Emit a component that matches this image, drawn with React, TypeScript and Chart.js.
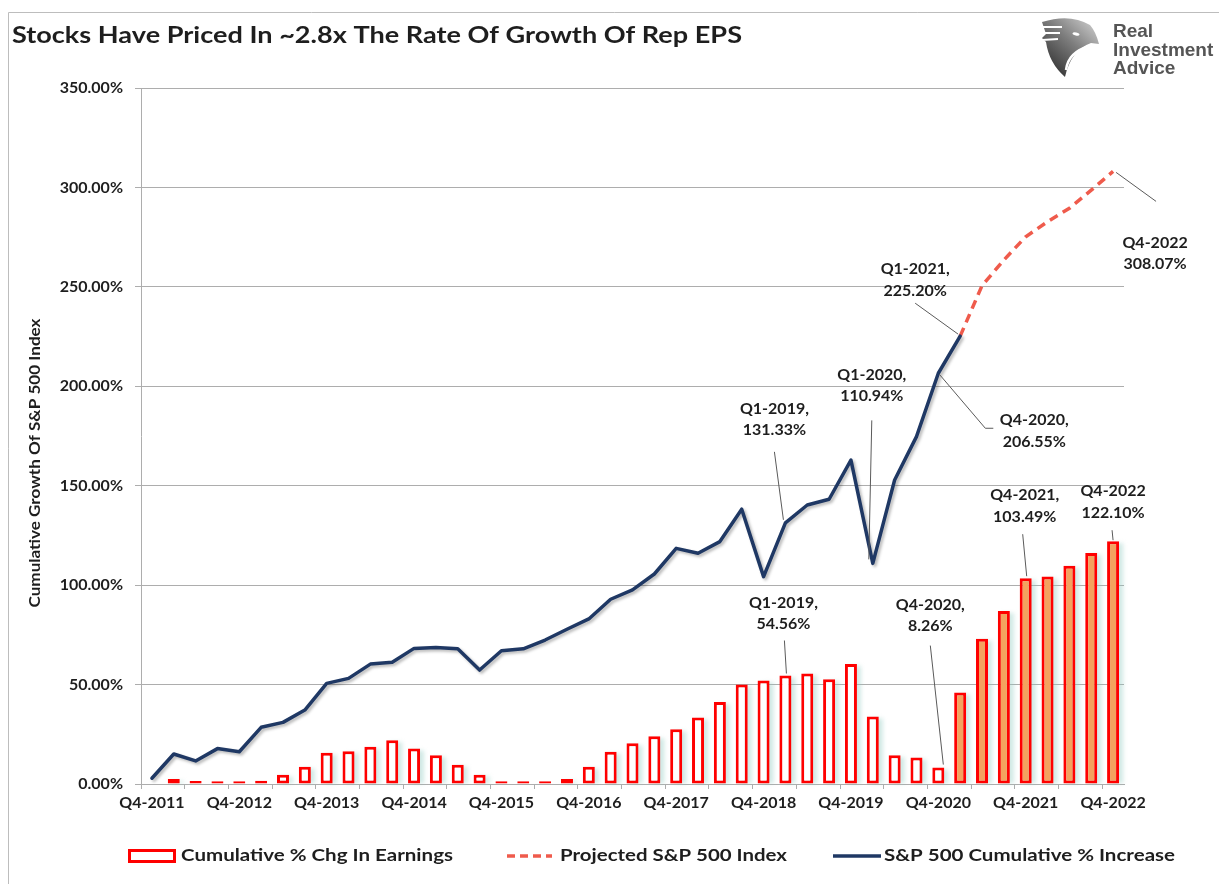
import React, { useEffect, useRef } from 'react';
import { Chart, registerables } from 'chart.js';

Chart.register(...registerables);

// ---------- data ----------
const quarterLabels: string[] = [
  'Q4-2011',
  'Q1-2012', 'Q2-2012', 'Q3-2012', 'Q4-2012',
  'Q1-2013', 'Q2-2013', 'Q3-2013', 'Q4-2013',
  'Q1-2014', 'Q2-2014', 'Q3-2014', 'Q4-2014',
  'Q1-2015', 'Q2-2015', 'Q3-2015', 'Q4-2015',
  'Q1-2016', 'Q2-2016', 'Q3-2016', 'Q4-2016',
  'Q1-2017', 'Q2-2017', 'Q3-2017', 'Q4-2017',
  'Q1-2018', 'Q2-2018', 'Q3-2018', 'Q4-2018',
  'Q1-2019', 'Q2-2019', 'Q3-2019', 'Q4-2019',
  'Q1-2020', 'Q2-2020', 'Q3-2020', 'Q4-2020',
  'Q1-2021', 'Q2-2021', 'Q3-2021', 'Q4-2021',
  'Q1-2022', 'Q2-2022', 'Q3-2022', 'Q4-2022',
];

const xTickLabels: string[] = [
  'Q4-2011', 'Q4-2012', 'Q4-2013', 'Q4-2014', 'Q4-2015', 'Q4-2016',
  'Q4-2017', 'Q4-2018', 'Q4-2019', 'Q4-2020', 'Q4-2021', 'Q4-2022',
];

const earningsCumulative: number[] = [
  0, 2.5, 1.5, 1.4, 1.4, 1.6, 4.7, 8.7, 15.7, 16.5, 18.7, 22.0, 17.9, 14.5, 9.7, 4.7,
  1.4, 1.4, 1.4, 2.5, 8.7, 16.2, 20.5, 24.0, 27.5, 33.5, 41.2, 50.0, 52.0, 54.56,
  55.6, 52.7, 60.3, 34.0, 14.5, 13.3, 8.26, 46.0, 73.0, 87.0, 103.49, 104.3, 109.8,
  116.2, 122.1,
];

const sp500Cumulative: (number | null)[] = [
  2.9, 15.1, 11.6, 17.8, 16.2, 28.5, 31.0, 37.2, 50.6, 53.1, 60.3, 61.2, 68.2, 68.7,
  68.0, 57.3, 67.0, 68.0, 72.4, 77.8, 83.0, 92.9, 97.6, 105.6, 118.5, 116.0, 121.9,
  138.2, 104.3, 131.33, 140.3, 143.2, 162.9, 110.94, 152.9, 174.7, 206.55, 225.2,
  null, null, null, null, null, null, null,
];

const projectedSp500: (number | null)[] = [
  null, null, null, null, null, null, null, null, null, null, null, null, null, null,
  null, null, null, null, null, null, null, null, null, null, null, null, null, null,
  null, null, null, null, null, null, null, null, null, 225.2,
  250.6, 263.5, 275.2, 282.8, 289.5, 298.6, 308.07,
];

const projectionStartLabel = 'Q1-2021';

const seriesNames = {
  earnings: 'Cumulative % Chg In Earnings',
  projected: 'Projected S&P 500 Index',
  sp500: 'S&P 500 Cumulative % Increase',
};

// callouts: text plus offsets (px) relative to the data point
type Callout = {
  series: 'sp500' | 'projected' | 'earnings';
  label: string;
  text: string[];
  dx: number;
  dy: number;
  leader: number[][];
};
const callouts: Callout[] = [
  { series: 'projected', label: 'Q4-2022', text: ['Q4-2022', '308.07%'], dx: 42, dy: 71, leader: [[3, 1], [43, 30]] },
  { series: 'sp500', label: 'Q1-2021', text: ['Q1-2021,', '225.20%'], dx: -45, dy: -67, leader: [[-2, -2], [-45, -33]] },
  { series: 'sp500', label: 'Q1-2020', text: ['Q1-2020,', '110.94%'], dx: -1, dy: -189, leader: [[-4, -4], [-1, -143]] },
  { series: 'sp500', label: 'Q1-2019', text: ['Q1-2019,', '131.33%'], dx: -11, dy: -114, leader: [[-2, -3], [-11, -71]] },
  { series: 'sp500', label: 'Q4-2020', text: ['Q4-2020,', '206.55%'], dx: 96, dy: 47, leader: [[1, 1], [47, 55], [55, 55]] },
  { series: 'earnings', label: 'Q1-2019', text: ['Q1-2019,', '54.56%'], dx: -2, dy: -73, leader: [[1, -2], [-1, -35]] },
  { series: 'earnings', label: 'Q4-2020', text: ['Q4-2020,', '8.26%'], dx: -8, dy: -163, leader: [[5, -3], [-8, -122]] },
  { series: 'earnings', label: 'Q4-2021', text: ['Q4-2021,', '103.49%'], dx: -1, dy: -83, leader: [[1, -2], [-3, -44]] },
  { series: 'earnings', label: 'Q4-2022', text: ['Q4-2022', '122.10%'], dx: 0, dy: -50, leader: [[0, -1], [-1, -11]] },
];

// ---------- styles ----------
const NAVY = '#1F3864';
const SALMON = '#EF5B4C';
const RED = '#FF0000';
const ORANGE = '#F4A25E';
const GRID = '#ADADAD';
const TEXT = '#1E1E1E';
const FONT = 'Lato, "Open Sans", "DejaVu Sans", sans-serif';

const projectionStart = quarterLabels.indexOf(projectionStartLabel);
const earningsFill = quarterLabels.map((_, i) => (i >= projectionStart ? ORANGE : '#FFFFFF'));

function fitText(ctx: CanvasRenderingContext2D, text: string, x: number, y: number, width: number, align: 'left' | 'center') {
  const w = ctx.measureText(text).width;
  const sx = width / w;
  ctx.save();
  ctx.translate(x, y);
  ctx.scale(sx, 1);
  ctx.textAlign = 'left';
  ctx.fillText(text, align === 'center' ? -w / 2 : 0, 0);
  ctx.restore();
}

function drawLogo(ctx: CanvasRenderingContext2D) {
  ctx.save();
  const g = ctx.createLinearGradient(1046, 76, 1098, 20);
  g.addColorStop(0, '#262626');
  g.addColorStop(0.55, '#7d7d7d');
  g.addColorStop(1, '#d4d4d4');
  ctx.fillStyle = g;
  ctx.beginPath();
  ctx.moveTo(1042, 22);
  ctx.quadraticCurveTo(1070, 13, 1090, 25);
  ctx.quadraticCurveTo(1096, 32, 1099, 44);
  ctx.lineTo(1091, 43);
  ctx.quadraticCurveTo(1071, 50, 1065, 77);
  ctx.quadraticCurveTo(1049, 63, 1046, 42);
  ctx.lineTo(1042, 38);
  ctx.lineTo(1046, 34);
  ctx.closePath();
  ctx.fill();
  ctx.strokeStyle = '#FFFFFF';
  ctx.lineWidth = 2;
  ctx.beginPath();
  ctx.moveTo(1040, 27); ctx.lineTo(1062, 27);
  ctx.moveTo(1040, 33); ctx.lineTo(1060, 33);
  ctx.moveTo(1042, 40); ctx.lineTo(1058, 39);
  ctx.stroke();
  ctx.lineWidth = 2.5;
  ctx.beginPath();
  ctx.moveTo(1066, 70);
  ctx.quadraticCurveTo(1068, 52, 1090, 46);
  ctx.stroke();
  ctx.fillStyle = '#FFFFFF';
  ctx.beginPath();
  ctx.ellipse(1076, 34, 3.5, 1.6, 0.2, 0, Math.PI * 2);
  ctx.fill();
  ctx.fillStyle = '#555555';
  ctx.font = 'bold 19px "Liberation Sans", Arial, sans-serif';
  ctx.textBaseline = 'alphabetic';
  ctx.textAlign = 'left';
  ctx.fillText('Real', 1113, 37);
  ctx.fillText('Investment', 1113, 56);
  ctx.fillText('Advice', 1113, 74);
  ctx.restore();
}

const chromePlugin = {
  id: 'chrome',
  afterDraw(chart: any) {
    const ctx: CanvasRenderingContext2D = chart.ctx;
    ctx.save();
    // frame
    ctx.strokeStyle = '#BDBDBD';
    ctx.lineWidth = 1;
    ctx.beginPath();
    ctx.moveTo(8.5, 890);
    ctx.lineTo(8.5, 12.5);
    ctx.lineTo(1230, 12.5);
    ctx.stroke();

    // title
    ctx.fillStyle = TEXT;
    ctx.textBaseline = 'alphabetic';
    ctx.font = `bold 23px ${FONT}`;
    fitText(ctx, 'Stocks Have Priced In ~2.8x The Rate Of Growth Of Rep EPS', 12, 43, 730, 'left');

    drawLogo(ctx);

    // y-axis title
    ctx.fillStyle = TEXT;
    ctx.font = `bold 15px ${FONT}`;
    ctx.textBaseline = 'middle';
    ctx.save();
    ctx.translate(35, 463);
    ctx.rotate(-Math.PI / 2);
    fitText(ctx, 'Cumulative Growth Of S&P 500 Index', 0, 0, 289, 'center');
    ctx.restore();

    // legend
    const ly = 856;
    ctx.fillStyle = '#FFFFFF';
    ctx.fillRect(129.5, 850.5, 45, 11);
    ctx.strokeStyle = RED;
    ctx.lineWidth = 3;
    ctx.strokeRect(129.5, 850.5, 45, 11);

    ctx.lineWidth = 3.5;
    ctx.strokeStyle = SALMON;
    ctx.setLineDash([8, 5]);
    ctx.beginPath();
    ctx.moveTo(507, ly);
    ctx.lineTo(552, ly);
    ctx.stroke();
    ctx.setLineDash([]);
    ctx.strokeStyle = NAVY;
    ctx.beginPath();
    ctx.moveTo(833, ly);
    ctx.lineTo(881, ly);
    ctx.stroke();

    ctx.fillStyle = TEXT;
    ctx.font = `bold 17px ${FONT}`;
    ctx.textBaseline = 'middle';
    fitText(ctx, seriesNames.earnings, 181, ly, 272, 'left');
    fitText(ctx, seriesNames.projected, 560, ly, 227, 'left');
    fitText(ctx, seriesNames.sp500, 884, ly, 291, 'left');
    ctx.restore();
  },
};

const barShadowPlugin = {
  id: 'barShadow',
  beforeDatasetsDraw(chart: any) {
    const ctx: CanvasRenderingContext2D = chart.ctx;
    const meta = chart.getDatasetMeta(2);
    ctx.save();
    ctx.filter = 'blur(2px)';
    ctx.fillStyle = 'rgba(140,200,190,0.4)';
    meta.data.forEach((el: any) => {
      const h = el.base - el.y;
      if (h < 4) return;
      ctx.fillRect(el.x - el.width / 2 + 4, el.y + 2, el.width, h - 2);
    });
    ctx.restore();
  },
};

const lineShadowPlugin = {
  id: 'lineShadow',
  beforeDatasetDraw(chart: any, args: any) {
    const ctx: CanvasRenderingContext2D = chart.ctx;
    ctx.save();
    if (args.index === 0) {
      ctx.shadowColor = 'rgba(0,0,0,0.28)';
      ctx.shadowBlur = 3;
      ctx.shadowOffsetX = 2;
      ctx.shadowOffsetY = 2;
    }
  },
  afterDatasetDraw(chart: any) {
    chart.ctx.restore();
  },
};

const calloutPlugin = {
  id: 'callouts',
  afterDatasetsDraw(chart: any) {
    const ctx: CanvasRenderingContext2D = chart.ctx;
    const dsIndex = { sp500: 0, projected: 1, earnings: 2 };
    ctx.save();
    callouts.forEach((c) => {
      const idx = quarterLabels.indexOf(c.label);
      const el = chart.getDatasetMeta(dsIndex[c.series]).data[idx];
      if (!el) return;
      const px = el.x;
      const py = el.y;
      ctx.strokeStyle = '#5A5A5A';
      ctx.lineWidth = 1;
      ctx.beginPath();
      c.leader.forEach((p, i) => {
        if (i === 0) ctx.moveTo(px + p[0], py + p[1]);
        else ctx.lineTo(px + p[0], py + p[1]);
      });
      ctx.stroke();
      ctx.fillStyle = TEXT;
      ctx.font = `bold 16px ${FONT}`;
      ctx.textAlign = 'center';
      ctx.textBaseline = 'middle';
      c.text.forEach((t, i) => ctx.fillText(t, px + c.dx, py + c.dy + i * 21.5));
    });
    ctx.restore();
  },
};

export default function App() {
  const ref = useRef<HTMLCanvasElement>(null);

  useEffect(() => {
    document.body.style.margin = '0';
    const canvas = ref.current;
    if (!canvas) return;
    const chart = new Chart(canvas, {
      type: 'bar',
      data: {
        labels: quarterLabels,
        datasets: [
          {
            type: 'line',
            label: seriesNames.sp500,
            data: sp500Cumulative,
            borderColor: NAVY,
            borderWidth: 3.5,
            pointRadius: 0,
            tension: 0,
            borderJoinStyle: 'round',
            borderCapStyle: 'round',
            order: 0,
          },
          {
            type: 'line',
            label: seriesNames.projected,
            data: projectedSp500,
            borderColor: SALMON,
            borderWidth: 3.5,
            borderDash: [9, 6],
            pointRadius: 0,
            tension: 0,
            order: 1,
          },
          {
            type: 'bar',
            label: seriesNames.earnings,
            data: earningsCumulative,
            backgroundColor: earningsFill,
            borderColor: RED,
            borderWidth: 3,
            borderSkipped: false,
            barPercentage: 0.55,
            categoryPercentage: 1,
            order: 2,
          },
        ] as any,
      },
      options: {
        responsive: false,
        animation: false,
        devicePixelRatio: 1,
        layout: { padding: { left: 40, top: 88, right: 95, bottom: 60 } },
        plugins: {
          legend: { display: false },
          tooltip: { enabled: false },
          title: { display: false },
        },
        scales: {
          x: {
            type: 'category',
            offset: true,
            grid: {
              offset: true,
              drawOnChartArea: false,
              drawTicks: true,
              tickLength: 5,
              color: (c: any) => (typeof c.index === 'number' && c.index % 2 === 0 ? GRID : 'rgba(0,0,0,0)'),
            },
            border: { color: GRID, width: 1 },
            ticks: {
              autoSkip: false,
              maxRotation: 0,
              minRotation: 0,
              padding: 4,
              color: TEXT,
              font: { family: FONT, weight: 'bold', size: 16 },
              callback: (_v: any, i: number) => (xTickLabels.includes(quarterLabels[i]) ? quarterLabels[i] : ''),
            },
            afterFit: (s: any) => {
              s.height = 40;
            },
          },
          y: {
            min: 0,
            max: 350,
            grid: { color: GRID, tickLength: 6, lineWidth: 1 },
            border: { color: GRID, width: 1 },
            ticks: {
              stepSize: 50,
              padding: 12,
              color: TEXT,
              font: { family: FONT, weight: 'bold', size: 16 },
              callback: (v: any) => Number(v).toFixed(2) + '%',
            },
            afterFit: (s: any) => {
              s.width = 101;
            },
          },
        },
      } as any,
      plugins: [barShadowPlugin, lineShadowPlugin, calloutPlugin, chromePlugin],
    });
    return () => chart.destroy();
  }, []);

  return <canvas ref={ref} width={1219} height={884} style={{ display: 'block', width: 1219, height: 884 }} />;
}
